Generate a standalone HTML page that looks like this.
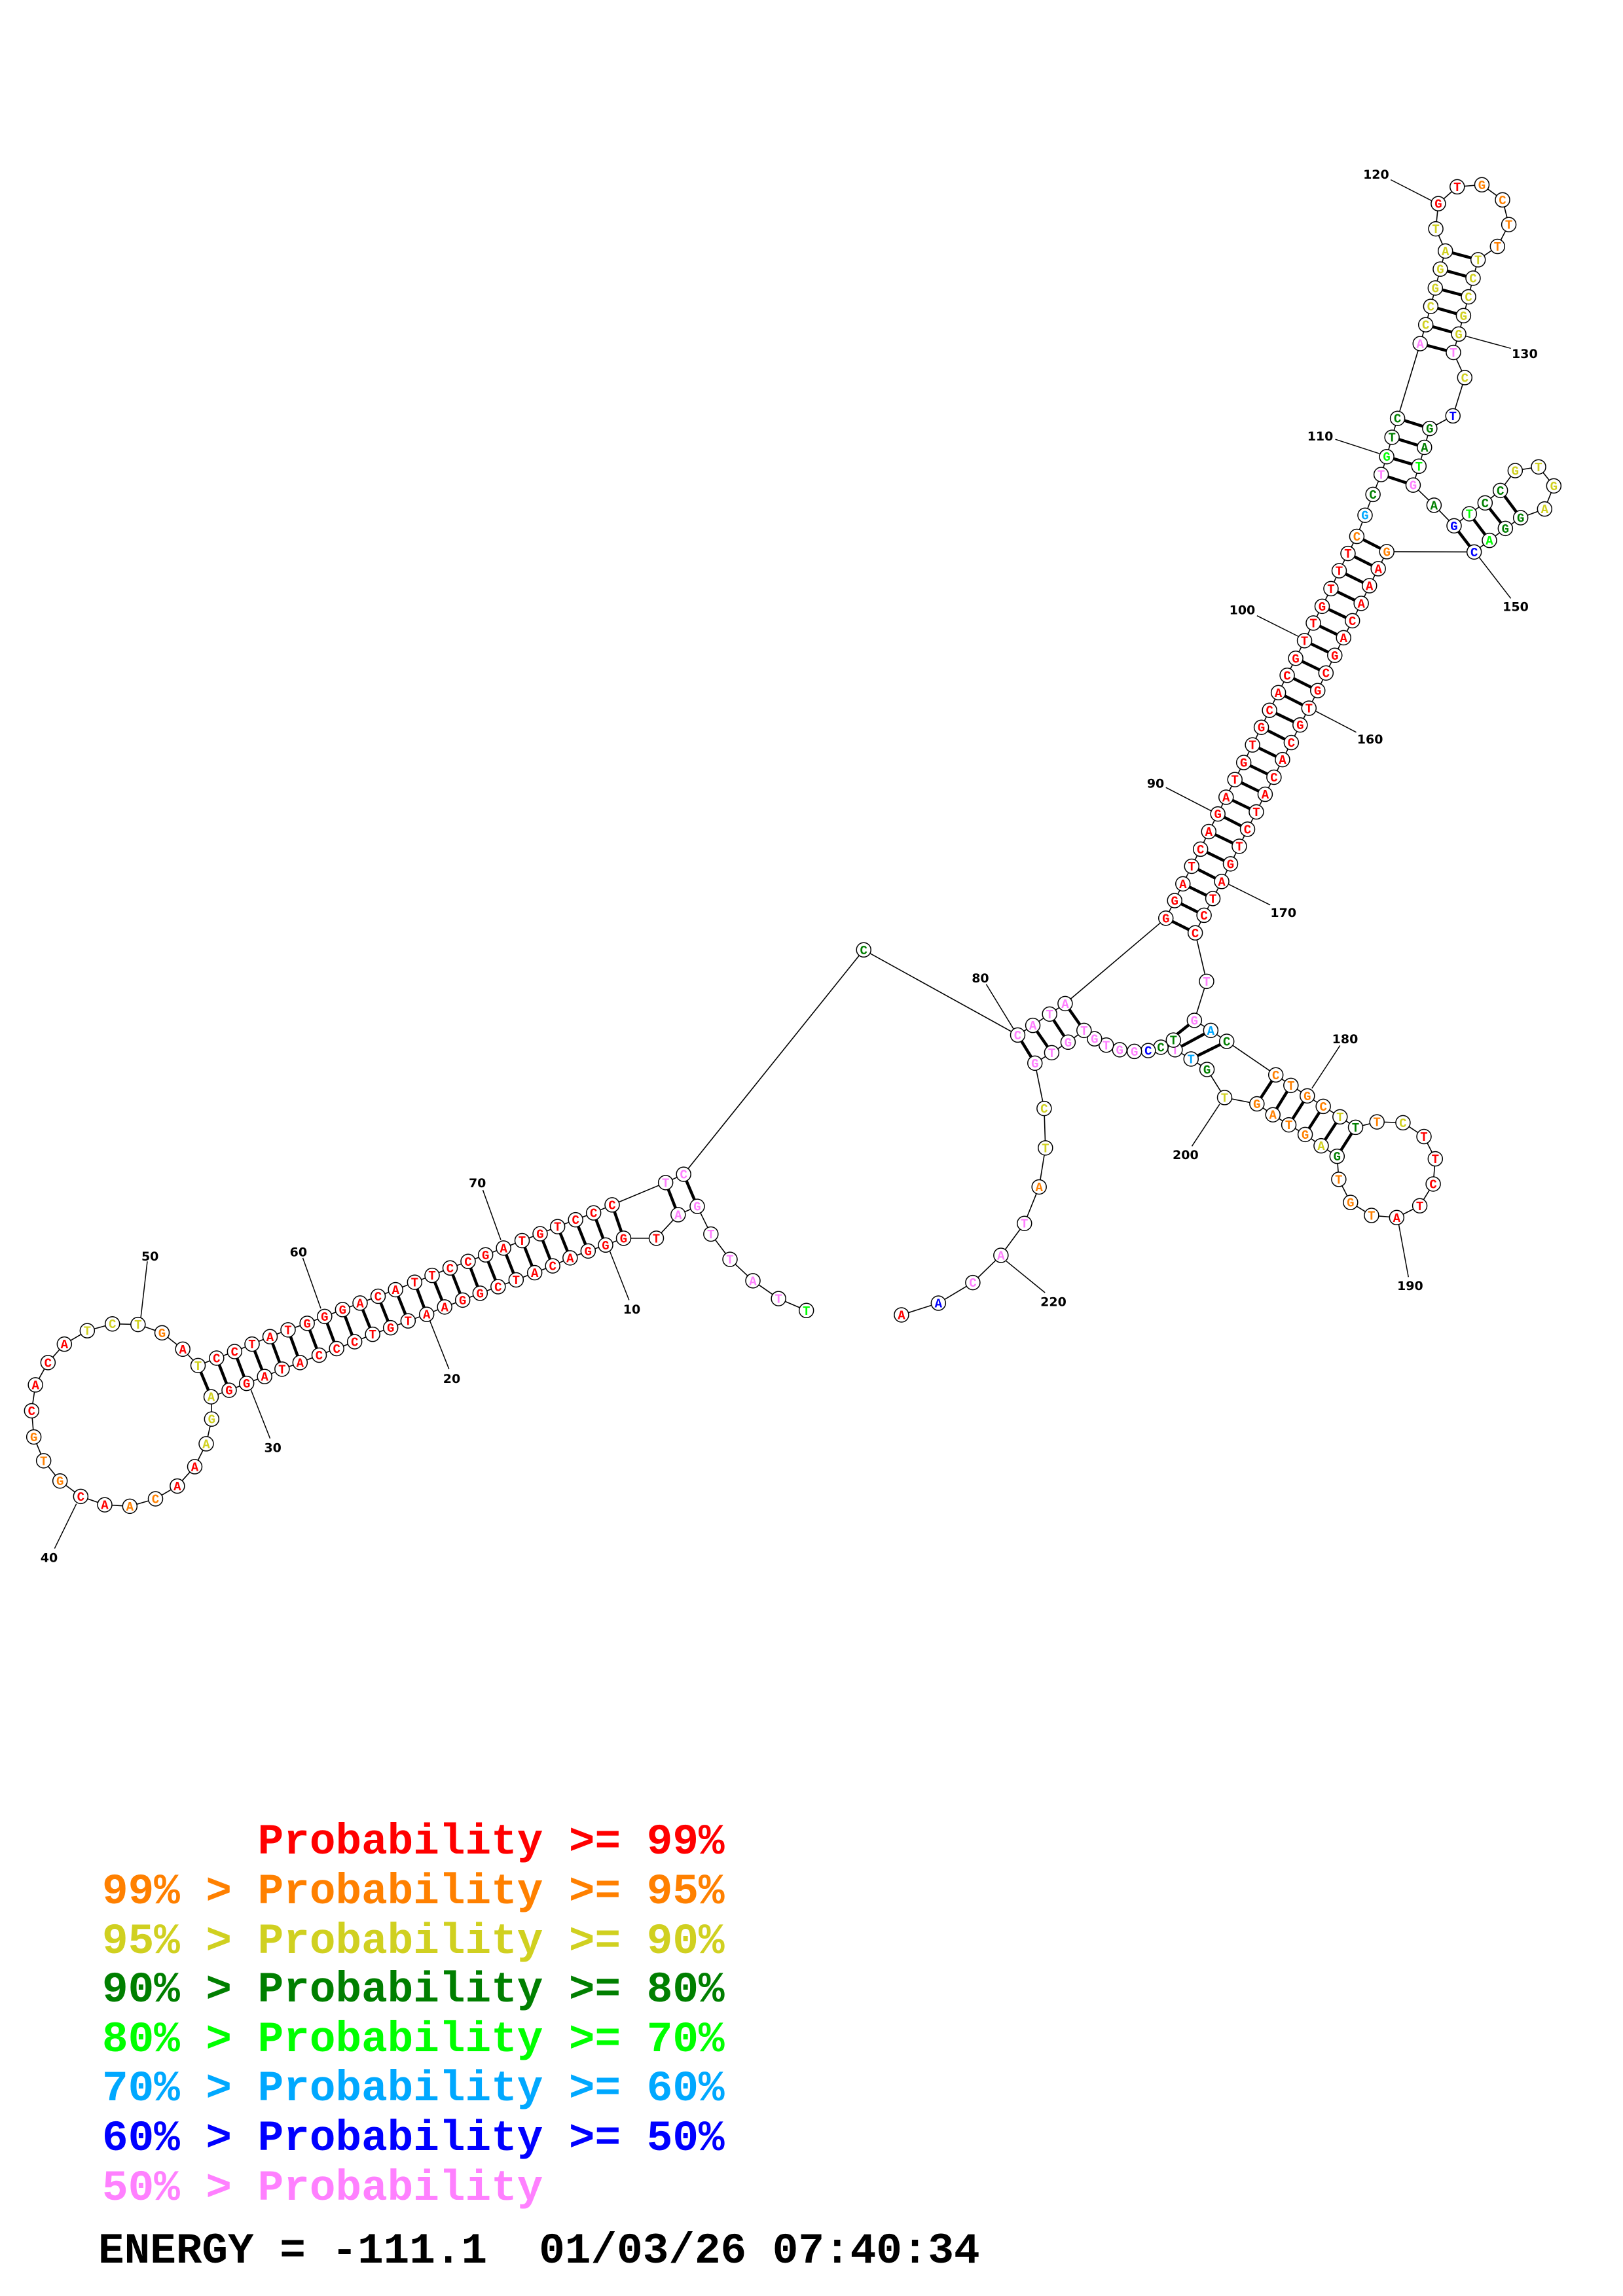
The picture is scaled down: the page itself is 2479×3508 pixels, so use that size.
<!DOCTYPE html>
<html><head><meta charset="utf-8"><style>
html,body{margin:0;padding:0;background:#fff}
svg{display:block}
.lg{font-family:"Liberation Mono",monospace;font-weight:bold;font-size:66px;white-space:pre}
</style></head><body>
<svg id="s" xmlns="http://www.w3.org/2000/svg" width="2479" height="3508" viewBox="0 0 2479 3508">
<rect width="2479" height="3508" fill="#fff"/>
<g id="bb"></g><g id="pr"></g><g id="lb"></g><g id="nt"></g>
<text class="lg" x="156" y="2832" fill="#ff0000" xml:space="preserve">      Probability &gt;= 99%</text>
<text class="lg" x="156" y="2908" fill="#ff8000" xml:space="preserve">99% &gt; Probability &gt;= 95%</text>
<text class="lg" x="156" y="2984" fill="#d0d020" xml:space="preserve">95% &gt; Probability &gt;= 90%</text>
<text class="lg" x="156" y="3058" fill="#007f00" xml:space="preserve">90% &gt; Probability &gt;= 80%</text>
<text class="lg" x="156" y="3134" fill="#00ff00" xml:space="preserve">80% &gt; Probability &gt;= 70%</text>
<text class="lg" x="156" y="3209" fill="#00a8ff" xml:space="preserve">70% &gt; Probability &gt;= 60%</text>
<text class="lg" x="156" y="3285" fill="#0000ff" xml:space="preserve">60% &gt; Probability &gt;= 50%</text>
<text class="lg" x="156" y="3361" fill="#ff80ff" xml:space="preserve">50% &gt; Probability</text>
<text class="lg" x="150" y="3457" fill="#000" xml:space="preserve">ENERGY = -111.1  01/03/26 07:40:34</text>
</svg>
<script>
var Z={2:[0,1750,1.2,2.2],3:[1300,1400,1.56,1.56],4:[1850,220,2.6,2.6],5:[1700,750,2.2286,2.2286],6:[2100,650,3,3]};
var C={r:"#ff0000",o:"#ff8000",y:"#d0d020",g:"#007f00",l:"#00ff00",c:"#00a8ff",b:"#0000ff",p:"#ff80ff"};
var D=[
[2,1478,555,"T","l"],[2,1427,515,"T","p"],[2,1380,455,"A","p"],[2,1338,383,"T","p"],[2,1303,298,"T","p"],[2,1278,205,"G","p"],[2,1243,233,"A","p"],[2,1203,312,"T","r"],[2,1143,312,"G","r"],[2,1110,335,"G","r"],
[2,1078,355,"G","r"],[2,1045,378,"A","r"],[2,1013,405,"C","r"],[2,980,428,"A","r"],[2,946,452,"T","r"],[2,913,475,"C","r"],[2,880,497,"G","r"],[2,848,520,"G","r"],[2,815,543,"A","r"],[2,782,568,"A","r"],
[2,748,590,"T","r"],[2,716,613,"G","r"],[2,683,635,"T","r"],[2,650,660,"C","r"],[2,617,683,"C","r"],[2,585,705,"C","r"],[2,550,730,"A","r"],[2,517,752,"T","r"],[2,485,777,"A","r"],[2,452,800,"G","r"],
[2,420,823,"G","r"],[2,387,845,"A","y"],[2,388,920,"G","y"],[2,378,1003,"A","y"],[2,357,1080,"A","r"],[2,325,1145,"A","r"],[2,285,1188,"C","o"],[2,238,1213,"A","o"],[2,192,1208,"A","r"],[2,148,1180,"C","r"],
[2,110,1128,"G","o"],[2,80,1060,"T","o"],[2,62,980,"G","o"],[2,58,892,"C","r"],[2,65,805,"A","r"],[2,88,730,"C","r"],[2,118,668,"A","r"],[2,160,623,"T","y"],[2,206,600,"C","y"],[2,253,602,"T","y"],
[2,297,630,"G","o"],[2,335,685,"A","r"],[2,363,740,"T","y"],[2,397,715,"C","r"],[2,430,693,"C","r"],[2,462,668,"T","r"],[2,495,643,"A","r"],[2,528,620,"T","r"],[2,563,598,"G","r"],[2,595,575,"G","r"],
[2,628,552,"G","r"],[2,660,530,"A","r"],[2,693,507,"C","r"],[2,725,485,"A","r"],[2,760,460,"T","r"],[2,792,437,"T","r"],[2,825,412,"C","r"],[2,858,390,"C","r"],[2,890,368,"G","r"],[2,923,345,"A","r"],
[2,957,320,"T","r"],[2,990,297,"G","r"],[2,1022,273,"T","r"],[2,1055,250,"C","r"],[2,1088,227,"C","r"],[2,1122,200,"C","r"],[2,1220,125,"T","p"],[2,1253,97,"C","p"],
[3,30,80,"C","g"],[3,397,283,"C","p"],[3,433,260,"A","p"],[3,473,233,"T","p"],[3,510,208,"A","p"],
[5,180,1455,"G","r"],[5,210,1395,"G","r"],[5,238,1338,"A","r"],[5,268,1278,"T","r"],[5,298,1220,"C","r"],[5,326,1160,"A","r"],[5,357,1100,"G","r"],[5,385,1043,"A","r"],[5,415,983,"T","r"],[5,445,925,"G","r"],
[5,475,865,"T","r"],[5,505,805,"G","r"],[5,533,747,"C","r"],[5,563,687,"A","r"],[5,593,628,"C","r"],[5,622,570,"G","r"],[5,652,510,"T","r"],[5,682,450,"T","r"],[5,712,393,"G","r"],[5,742,333,"T","r"],
[5,770,272,"T","r"],[5,800,213,"T","r"],[5,830,155,"C","o"],[5,858,83,"G","c"],[5,885,12,"C","g"],
[4,675,1313,"T","p"],[4,697,1242,"G","l"],[4,718,1165,"T","g"],[4,740,1090,"C","g"],[4,830,793,"A","p"],[4,852,718,"C","y"],[4,872,645,"C","y"],[4,890,572,"G","y"],[4,910,497,"G","y"],[4,930,425,"A","y"],
[4,892,337,"T","y"],[4,902,237,"G","r"],[4,977,170,"T","r"],[4,1075,162,"G","o"],[4,1157,222,"C","o"],[4,1182,320,"T","o"],[4,1137,407,"T","o"],[4,1060,460,"T","y"],[4,1040,533,"C","y"],[4,1022,607,"C","y"],
[4,1002,682,"G","y"],[4,983,755,"G","y"],[4,962,828,"T","p"],[4,1007,928,"C","y"],[4,960,1080,"T","b"],[4,868,1130,"G","g"],[4,847,1205,"A","g"],[4,825,1280,"T","l"],[4,802,1355,"G","p"],[4,885,1435,"A","g"],
[6,363,460,"G","b"],[6,433,405,"T","l"],[6,505,355,"C","g"],[6,575,298,"C","g"],[6,643,207,"G","y"],[6,750,190,"T","y"],[6,820,277,"G","y"],[6,778,383,"A","y"],[6,668,423,"G","g"],[6,598,472,"G","g"],
[6,525,527,"A","l"],[6,455,580,"C","b"],
[5,932,207,"G","o"],[5,903,265,"A","r"],[5,873,323,"A","r"],[5,845,383,"A","r"],[5,815,442,"C","r"],[5,785,500,"A","r"],[5,755,560,"G","r"],[5,725,620,"C","r"],[5,697,680,"G","r"],[5,667,740,"T","r"],
[5,637,797,"G","r"],[5,607,857,"C","r"],[5,577,915,"A","r"],[5,548,975,"C","r"],[5,518,1033,"A","r"],[5,488,1093,"T","r"],[5,458,1152,"C","r"],[5,430,1210,"T","r"],[5,400,1270,"G","r"],[5,370,1330,"A","r"],
[5,340,1388,"T","r"],[5,310,1445,"C","r"],[5,280,1505,"C","r"],
[3,847,155,"T","p"],[3,818,248,"G","p"],[3,857,272,"A","c"],[3,895,298,"C","g"],[3,1012,378,"C","o"],[3,1048,403,"T","o"],[3,1087,428,"G","o"],[3,1125,453,"C","o"],[3,1165,478,"T","y"],[3,1202,503,"T","g"],
[3,1253,490,"T","o"],[3,1315,492,"C","y"],[3,1365,525,"T","r"],[3,1392,578,"T","r"],[3,1387,638,"C","r"],[3,1355,690,"T","r"],[3,1300,718,"A","r"],[3,1240,713,"T","o"],[3,1190,682,"G","o"],[3,1162,627,"T","o"],
[3,1158,572,"G","g"],[3,1120,547,"A","y"],[3,1082,520,"G","o"],[3,1043,497,"T","o"],[3,1005,473,"A","o"],[3,967,447,"G","o"],[3,890,432,"T","y"],[3,848,365,"G","g"],[3,810,340,"T","c"],[3,772,318,"T","p"],
[3,768,295,"T","g"],[3,738,312,"C","g"],[3,708,320,"C","b"],[3,675,322,"G","p"],[3,640,318,"G","p"],[3,608,307,"T","p"],[3,580,292,"G","p"],[3,555,272,"T","p"],[3,517,300,"G","p"],[3,478,325,"T","p"],
[3,438,350,"G","p"],[3,460,458,"C","y"],[3,463,552,"T","y"],[3,448,645,"A","o"],[3,413,732,"T","p"],[3,357,808,"A","p"],[3,290,873,"C","p"],[3,208,922,"A","b"],[3,120,950,"A","r"]
];
function cv(z,x,y){var t=Z[z];return [t[0]+x/t[2],t[1]+y/t[3]];}
var P=D.map(function(d){return cv(d[0],d[1],d[2]);});
var NS="http://www.w3.org/2000/svg";
function el(p,n,a,txt){var e=document.createElementNS(NS,n);for(var k in a)e.setAttribute(k,a[k]);if(txt!==undefined)e.textContent=txt;document.getElementById(p).appendChild(e);return e;}
for(var i=0;i<P.length-1;i++)el("bb","line",{x1:P[i][0],y1:P[i][1],x2:P[i+1][0],y2:P[i+1][1],stroke:"#000","stroke-width":1.6});
var pairs=[[6,78],[7,77]];
for(var i=9;i<=32;i++)pairs.push([i,85-i]);
for(var i=80;i<=83;i++)pairs.push([i,294-i]);
for(var i=84;i<=106;i++)pairs.push([i,257-i]);
for(var i=109;i<=112;i++)pairs.push([i,246-i]);
for(var i=113;i<=118;i++)pairs.push([i,244-i]);
pairs.push([139,150]);
for(var i=140;i<=142;i++)pairs.push([i,289-i]);
pairs.push([175,205],[176,203],[177,202]);
for(var i=178;i<=183;i++)pairs.push([i,377-i]);
pairs.forEach(function(p){var a=P[p[0]-1],b=P[p[1]-1];if(a&&b)el("pr","line",{x1:a[0],y1:a[1],x2:b[0],y2:b[1],stroke:"#000","stroke-width":4.5});});
var L=[
[2,"70",875,125,885,150,918,318],[2,"60",547,357,555,378,588,548],[2,"50",275,372,270,390,258,580],[2,"40",90,1385,100,1355,140,1205],
[2,"30",500,1015,495,985,460,822],[2,"20",828,783,823,752,788,590],[2,"10",1158,550,1153,520,1118,357],
[3,"80",308,147,322,162,388,270],[3,"180",1177,292,1165,308,1098,410],[3,"200",797,568,812,548,878,448],[3,"190",1332,880,1328,860,1305,735],[3,"220",482,918,462,897,370,822],
[4,"120",655,120,713,142,875,225],[4,"130",1245,832,1190,812,1010,763],[4,"110",433,1160,493,1173,668,1230],
[5,"100",440,405,490,425,630,495],[5,"90",145,995,180,1010,335,1090],[5,"160",875,845,828,822,690,750],[5,"170",580,1435,535,1410,395,1340],
[6,"150",645,830,623,793,478,605]];
L.forEach(function(l){var t=cv(l[0],l[2],l[3]),a=cv(l[0],l[4],l[5]),b=cv(l[0],l[6],l[7]);
el("lb","line",{x1:a[0],y1:a[1],x2:b[0],y2:b[1],stroke:"#000","stroke-width":1.5});
el("lb","text",{x:t[0],y:t[1]+7,"text-anchor":"middle","font-family":"DejaVu Sans, Liberation Sans, sans-serif","font-weight":"bold","font-size":19,fill:"#000"},l[1]);});
D.forEach(function(d,i){var p=P[i];
el("nt","circle",{cx:p[0],cy:p[1],r:11,fill:"#fff",stroke:"#000","stroke-width":1.5});
el("nt","text",{x:p[0],y:p[1]+6.5,"text-anchor":"middle","font-family":"Liberation Mono, monospace","font-weight":"bold","font-size":19,fill:C[d[4]]},d[3]);});
</script>
</body></html>
